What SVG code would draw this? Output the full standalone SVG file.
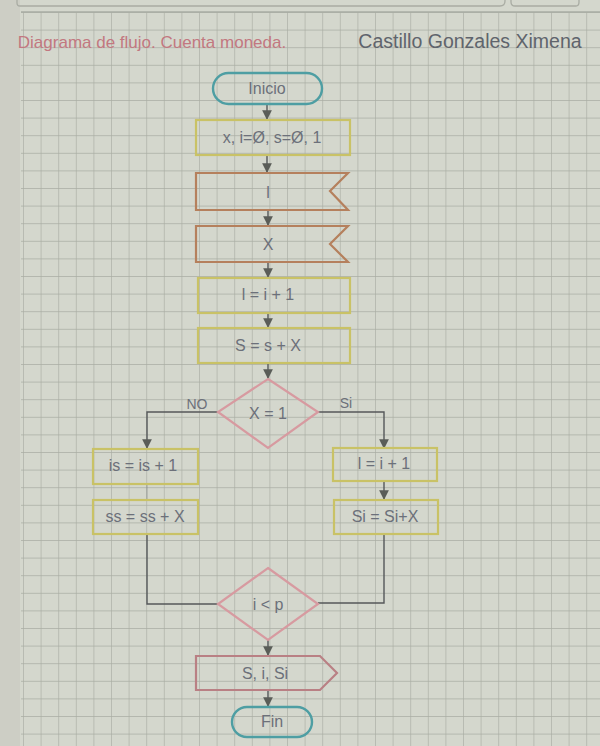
<svg xmlns="http://www.w3.org/2000/svg" width="600" height="746" viewBox="0 0 600 746">
<defs>
<pattern id="grid" x="23" y="12" width="17.6" height="17.6" patternUnits="userSpaceOnUse">
<path d="M0 0H17.6M0 0V17.6" fill="none" stroke="#a9ada3" stroke-width="1.3"/>
</pattern>
<marker id="arr" viewBox="0 0 10 10" refX="9" refY="5" markerWidth="7" markerHeight="7" orient="auto">
<path d="M0 0L10 5L0 10z" fill="#5a5d58"/>
</marker>
<style>
.t{font-family:"Liberation Sans","DejaVu Sans",sans-serif;font-size:16px;fill:#6c707a;text-anchor:middle;dominant-baseline:middle}
.proc{fill:none;stroke:#c9c266;stroke-width:2.2}
.inp{fill:none;stroke:#b5805d;stroke-width:2.2}
.dec{fill:none;stroke:#d79aa0;stroke-width:2.2}
.out{fill:none;stroke:#b98084;stroke-width:2.2}
.term{fill:none;stroke:#4e9ea3;stroke-width:2.4}
.c{fill:none;stroke:#55585a;stroke-width:1.4}
</style>
</defs>
<rect width="600" height="746" fill="#d4d7cd"/>
<rect x="0" y="0" width="20" height="746" fill="#cdcec5"/>
<rect x="21" y="12" width="579" height="734" fill="url(#grid)"/>
<path d="M17 0V3Q17 6 20 6H500Q505 6 505 1V0M511 0V2Q511 6 515 6H576Q579 6 579 2V0" fill="none" stroke="#a9aca3" stroke-width="1.3"/>
<line x1="21" y1="12" x2="600" y2="12" stroke="#a9aca3" stroke-width="1.3"/>

<g id="title">
<text x="152" y="44" style="font-family:'Liberation Sans','DejaVu Sans',sans-serif;font-size:17px;fill:#c27880;text-anchor:middle;dominant-baseline:middle">Diagrama de flujo. Cuenta moneda.</text>
<text x="470" y="43" style="font-family:'Liberation Sans','DejaVu Sans',sans-serif;font-size:19.5px;fill:#5f646c;text-anchor:middle;dominant-baseline:middle">Castillo Gonzales Ximena</text>
</g>

<g id="connectors">
<line class="c" x1="267" y1="104" x2="267" y2="119" marker-end="url(#arr)"/>
<line class="c" x1="267" y1="156" x2="267" y2="172" marker-end="url(#arr)"/>
<line class="c" x1="268" y1="210" x2="268" y2="225" marker-end="url(#arr)"/>
<line class="c" x1="268" y1="262" x2="268" y2="277" marker-end="url(#arr)"/>
<line class="c" x1="268" y1="313" x2="268" y2="327" marker-end="url(#arr)"/>
<line class="c" x1="268" y1="363" x2="268" y2="378" marker-end="url(#arr)"/>
<path class="c" d="M218 412H147V448" marker-end="url(#arr)"/>
<path class="c" d="M318 412H384V448" marker-end="url(#arr)"/>
<line class="c" x1="147" y1="484" x2="147" y2="500" stroke-opacity="0.25"/>
<line class="c" x1="384" y1="481" x2="384" y2="499" marker-end="url(#arr)"/>
<path class="c" d="M147 534V604H218"/>
<path class="c" d="M384 534V603H318"/>
<line class="c" x1="268" y1="640" x2="268" y2="655" marker-end="url(#arr)"/>
<line class="c" x1="268" y1="690" x2="268" y2="706" marker-end="url(#arr)"/>
<text class="t" x="197" y="405" style="font-size:14px">NO</text>
<text class="t" x="346" y="404" style="font-size:14px">Si</text>
</g>

<g id="inicio">
<rect class="term" x="213" y="73" width="109" height="31" rx="15.5"/>
<text class="t" x="267" y="90">Inicio</text>
</g>
<g id="init">
<rect class="proc" x="196" y="120" width="154" height="35"/>
<text class="t" x="272" y="139">x, i=Ø, s=Ø, 1</text>
</g>
<g id="read-l">
<path class="inp" d="M196 173H348L330 191L348 210H196Z"/>
<text class="t" x="268" y="194">l</text>
</g>
<g id="read-x">
<path class="inp" d="M196 226H348L330 244L348 262H196Z"/>
<text class="t" x="268" y="246">X</text>
</g>
<g id="inc-i">
<rect class="proc" x="198" y="278" width="152" height="35"/>
<text class="t" x="268" y="296">l = i + 1</text>
</g>
<g id="sum">
<rect class="proc" x="198" y="328" width="152" height="35"/>
<text class="t" x="268" y="347">S = s + X</text>
</g>
<g id="cond1">
<path class="dec" d="M268 379L318 412L268 448L218 412Z"/>
<text class="t" x="268" y="415">X = 1</text>
</g>
<g id="no1">
<rect class="proc" x="93" y="449" width="105" height="35"/>
<text class="t" x="143" y="467">is = is + 1</text>
</g>
<g id="no2">
<rect class="proc" x="93" y="500" width="105" height="34"/>
<text class="t" x="145" y="518">ss = ss + X</text>
</g>
<g id="si1">
<rect class="proc" x="333" y="448" width="104" height="33"/>
<text class="t" x="384" y="465">l = i + 1</text>
</g>
<g id="si2">
<rect class="proc" x="334" y="500" width="104" height="34"/>
<text class="t" x="385" y="518">Si = Si+X</text>
</g>
<g id="cond2">
<path class="dec" d="M268 568L318 604L268 640L218 604Z"/>
<text class="t" x="268" y="606">i &lt; p</text>
</g>
<g id="output">
<path class="out" d="M196 656H320L337 673L320 690H196Z"/>
<text class="t" x="265" y="675">S, i, Si</text>
</g>
<g id="fin">
<rect class="term" x="232" y="707" width="80" height="30" rx="15"/>
<text class="t" x="272" y="723">Fin</text>
</g>
</svg>
